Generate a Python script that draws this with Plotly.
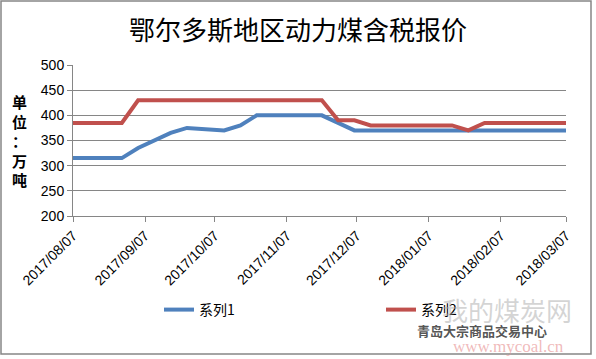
import plotly.graph_objects as go

dates = ["2017-08-07", "2017-08-14", "2017-08-21", "2017-08-28",
         "2017-09-04", "2017-09-11", "2017-09-18", "2017-09-25",
         "2017-10-11", "2017-10-18", "2017-10-25",
         "2017-11-01", "2017-11-08", "2017-11-15", "2017-11-22", "2017-11-29",
         "2017-12-06", "2017-12-13", "2017-12-20", "2017-12-27",
         "2018-01-03", "2018-01-10", "2018-01-17", "2018-01-24", "2018-01-31",
         "2018-02-07", "2018-02-14", "2018-02-21", "2018-02-28",
         "2018-03-07"]
series1 = [315, 315, 315, 315, 335, 350, 365, 375, 370, 380, 400,
           400, 400, 400, 400, 385, 370, 370, 370, 370,
           370, 370, 370, 370, 370, 370, 370, 370, 370, 370]
series2 = [385, 385, 385, 385, 430, 430, 430, 430, 430, 430, 430,
           430, 430, 430, 430, 390, 390, 380, 380, 380,
           380, 380, 380, 370, 385, 385, 385, 385, 385, 385]
tick_vals = ["2017-08-07", "2017-09-07", "2017-10-07", "2017-11-07",
             "2017-12-07", "2018-01-07", "2018-02-07", "2018-03-07"]
tick_text = ["2017/08/07", "2017/09/07", "2017/10/07", "2017/11/07",
             "2017/12/07", "2018/01/07", "2018/02/07", "2018/03/07"]
names = ["系列1", "系列2"]
title = "鄂尔多斯地区动力煤含税报价"
ytitle = "<b>单<br>位<br>：<br>万<br>吨</b>"

W, H = 596, 359
L, R, T, B = 73, 30, 65, 143
pw, ph = W - L - R, H - T - B

def px2x(px):
    return (px - L) / pw

def py2y(py):
    return (H - B - py) / ph

fig = go.Figure()
fig.add_trace(go.Scatter(x=dates, y=series1, mode="lines", name=names[0],
                         line=dict(color="#4F81BD", width=4), legend="legend"))
fig.add_trace(go.Scatter(x=dates, y=series2, mode="lines", name=names[1],
                         line=dict(color="#C0504D", width=4), legend="legend2"))

grid = "#868686"
leg_common = dict(xref="container", yref="container", xanchor="left",
                  yanchor="middle", y=1 - 310 / H,
                  font=dict(family="Noto Sans CJK SC", size=14),
                  bgcolor="rgba(0,0,0,0)", borderwidth=0)
fig.update_layout(
    width=W, height=H,
    margin=dict(l=L, r=R, t=T, b=B, pad=0, autoexpand=False),
    paper_bgcolor="white", plot_bgcolor="white",
    font=dict(family="Liberation Sans, Arial, sans-serif", color="black"),
    title=dict(text=title, x=0.5, xanchor="center", y=1 - 31 / H, yanchor="middle",
               xref="container", yref="container",
               font=dict(family="Noto Sans CJK SC", size=26, color="black")),
    xaxis=dict(type="date", range=["2017-08-07", "2018-03-07"],
               tickvals=tick_vals, ticktext=tick_text, tickangle=-45,
               ticks="outside", ticklen=5, tickcolor=grid,
               showline=True, linecolor=grid, linewidth=1,
               showgrid=False, zeroline=False, automargin=False,
               tickfont=dict(size=14, family="Liberation Sans")),
    yaxis=dict(range=[200, 500], dtick=50, tick0=200,
               ticks="outside", ticklen=5, tickcolor=grid,
               showline=True, linecolor=grid, linewidth=1,
               showgrid=True, gridcolor=grid, gridwidth=1, zeroline=False,
               automargin=False,
               tickfont=dict(size=14, family="Liberation Sans")),
    legend=dict(x=159 / W, **leg_common),
    legend2=dict(x=381 / W, **leg_common),
    showlegend=True,
)

fig.add_annotation(text=ytitle, xref="paper", yref="paper",
                   x=px2x(19), y=py2y(140), showarrow=False,
                   xanchor="center", yanchor="middle",
                   font=dict(family="Noto Sans CJK SC", size=15, color="black"))

# watermark texts
fig.add_annotation(text="我的煤炭网", xref="paper", yref="paper",
                   x=px2x(507), y=py2y(309), showarrow=False,
                   xanchor="center", yanchor="middle",
                   font=dict(family="Noto Sans CJK SC", size=26, color="rgba(170,170,170,0.5)"))
fig.add_annotation(text="<b>青岛大宗商品交易中心</b>", xref="paper", yref="paper",
                   x=px2x(482), y=py2y(330), showarrow=False,
                   xanchor="center", yanchor="middle",
                   font=dict(family="Noto Sans CJK SC", size=13, color="rgba(40,40,40,0.8)"))
fig.add_annotation(text="www.mycoal.cn", xref="paper", yref="paper",
                   x=px2x(508), y=py2y(346), showarrow=False,
                   xanchor="center", yanchor="middle",
                   font=dict(family="Liberation Serif", size=17, color="rgba(230,140,140,0.6)"))

# outer frame
fig.add_shape(type="rect", xref="paper", yref="paper",
              x0=px2x(1), x1=px2x(591), y0=py2y(354), y1=py2y(1),
              line=dict(color="#868686", width=1.5), fillcolor="rgba(0,0,0,0)",
              layer="below")

fig.write_html("out.html", config={"displayModeBar": False},
               post_script="document.body.style.margin='0px';")
